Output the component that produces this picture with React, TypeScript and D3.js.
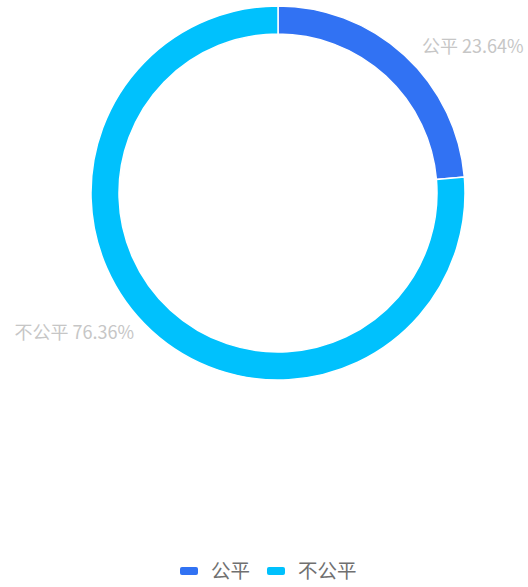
import { useRef, useEffect } from 'react';
import * as d3 from 'd3';

const categories = ['公平', '不公平'];
const values = [23.64, 76.36];
const colors = ['#3172f3', '#00c1fd'];

export default function App() {
  const svgRef = useRef<SVGSVGElement>(null);
  const width = 528, height = 587;

  useEffect(() => {
    const svg = d3.select(svgRef.current);
    svg.selectAll('*').remove();

    const cx = 278, cy = 193;
    const outer = 187, inner = 159;
    const font = '"Noto Sans CJK SC", "Noto Sans", sans-serif';

    const data = categories.map((c, i) => ({ name: c, value: values[i] }));
    const pie = d3.pie<any>().value(d => d.value).sort(null);
    const arcs = pie(data);
    const arc = d3.arc<any>().innerRadius(inner).outerRadius(outer);

    const g = svg.append('g').attr('transform', `translate(${cx},${cy})`);

    g.selectAll('path')
      .data(arcs)
      .join('path')
      .attr('d', arc)
      .attr('fill', (d, i) => colors[i])
      .attr('stroke', '#fff')
      .attr('stroke-width', 1.5);

    // outside labels
    const labelR = 198;
    g.selectAll('text.lbl')
      .data(arcs)
      .join('text')
      .attr('class', 'lbl')
      .attr('x', d => {
        const a = (d.startAngle + d.endAngle) / 2;
        const x = Math.sin(a) * labelR;
        return x >= 0 ? x + 10 : x - 10;
      })
      .attr('y', d => {
        const a = (d.startAngle + d.endAngle) / 2;
        return -Math.cos(a) * labelR + (Math.cos(a) < 0 ? -6 : 0);
      })
      .attr('dy', '0.35em')
      .attr('text-anchor', d => Math.sin((d.startAngle + d.endAngle) / 2) >= 0 ? 'start' : 'end')
      .attr('font-family', font)
      .attr('font-size', 18)
      .attr('fill', '#c6c6c6')
      .text(d => `${d.data.name} ${d.data.value.toFixed(2)}%`);

    // legend
    const legend = svg.append('g').attr('transform', 'translate(180,571)');
    const offsets = [0, 87];
    categories.forEach((c, i) => {
      const item = legend.append('g').attr('transform', `translate(${offsets[i]},0)`);
      item.append('rect')
        .attr('x', 0).attr('y', -4)
        .attr('width', 18).attr('height', 8)
        .attr('rx', 2)
        .attr('fill', colors[i]);
      item.append('text')
        .attr('x', 31).attr('y', 0)
        .attr('dy', '0.35em')
        .attr('font-family', font)
        .attr('font-size', 19.5)
        .attr('fill', '#707070')
        .text(c);
    });
  }, []);

  return (
    <svg ref={svgRef} width={width} height={height}
      style={{ position: 'absolute', left: 0, top: 0, background: '#fff' }} />
  );
}
